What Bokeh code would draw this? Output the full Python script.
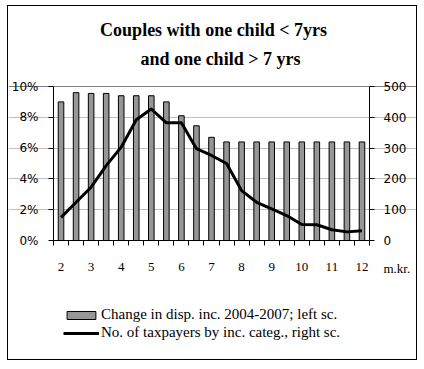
from bokeh.plotting import figure
from bokeh.models import (Range1d, LinearAxis, FixedTicker, NumeralTickFormatter,
                          Label, Legend, LegendItem, ColumnDataSource, Grid)
from bokeh.embed import file_html
from bokeh.resources import INLINE

# ---- data ----
categories = ["2", "2.5", "3", "3.5", "4", "4.5", "5", "5.5", "6", "6.5", "7",
              "7.5", "8", "8.5", "9", "9.5", "10", "10.5", "11", "11.5", "12"]
change_pct = [9.0, 9.6, 9.55, 9.55, 9.4, 9.4, 9.4, 9.0, 8.1, 7.45, 6.7,
              6.4, 6.4, 6.4, 6.4, 6.4, 6.4, 6.4, 6.4, 6.4, 6.4]
taxpayers = [75, 124, 173, 243, 303, 392, 427, 382, 382, 298, 276,
             250, 162, 124, 103, 81, 52, 51, 35, 28, 32]
tick_labels = ["2", "3", "4", "5", "6", "7", "8", "9", "10", "11", "12"]
left_ticks = [0, 0.02, 0.04, 0.06, 0.08, 0.10]
right_ticks = [0, 100, 200, 300, 400, 500]
left_max, right_max = 0.10, 500

# ---- layout (pixels) ----
W, H = 410, 355                 # canvas (inside the 1px border)
PL, PR, PT, PB = 45, 49, 80, 121  # plot area offsets inside the canvas
n = len(categories)
ppx = (W - PL - PR) / n          # px per category
ppy = (H - PT - PB) / left_max   # px per unit (left)
ppr = (H - PT - PB) / right_max  # px per unit (right)

x_range = Range1d(-0.5 - PL / ppx, n - 0.5 + PR / ppx)
y_range = Range1d(-PB / ppy, left_max + PT / ppy)

def xs(px):  # canvas px -> x data
    return -0.5 - PL / ppx + px / ppx

def ys(py):  # canvas px (from top) -> left y data
    return left_max + PT / ppy - py / ppy

idx = list(range(n))
src = ColumnDataSource(dict(x=idx, cat=categories,
                            bar=[v / 100 for v in change_pct], tax=taxpayers))

p = figure(width=W, height=H, x_range=x_range, y_range=y_range,
           output_backend="svg", toolbar_location=None, title=None,
           min_border_left=0, min_border_right=0, min_border_top=0, min_border_bottom=0)
p.extra_y_ranges = {"right": Range1d(-PB / ppr, right_max + PT / ppr)}
p.styles = {"border": "1px solid black", "margin-left": "7px", "margin-top": "5px"}
p.outline_line_color = None
p.background_fill_color = "white"
p.border_fill_color = "white"

# grid
p.xgrid.visible = False
p.ygrid.ticker = FixedTicker(ticks=left_ticks[1:-1])
p.ygrid.grid_line_color = "#c0c0c0"
p.ygrid.bounds = (-0.5, n - 0.5)
p.add_layout(Grid(dimension=1, ticker=FixedTicker(ticks=[left_max]),
                  grid_line_color="#808080", bounds=(-0.5, n - 0.5)))

tick_font = "DejaVu Sans"

# left axis
ya = p.yaxis[0]
ya.fixed_location = -0.5
ya.bounds = (0, left_max)
ya.ticker = FixedTicker(ticks=left_ticks)
ya.formatter = NumeralTickFormatter(format="0%")
ya.axis_line_color = "black"
ya.major_tick_line_color = "black"
ya.major_tick_out = 5
ya.major_tick_in = 0
ya.minor_tick_line_color = None
ya.major_label_standoff = 10
ya.major_label_text_font = tick_font
ya.major_label_text_font_size = "12px"
ya.major_label_text_color = "black"

# right axis
ra = LinearAxis(y_range_name="right", ticker=FixedTicker(ticks=right_ticks),
                fixed_location=n - 0.5, bounds=(0, right_max))
ra.axis_line_color = "black"
ra.major_tick_line_color = "black"
ra.major_tick_out = 5
ra.major_tick_in = 0
ra.minor_tick_line_color = None
ra.major_label_standoff = 9
ra.major_label_text_font = tick_font
ra.major_label_text_font_size = "12px"
ra.major_label_text_color = "black"
p.add_layout(ra, "right")

# bottom axis
xa = p.xaxis[0]
xa.fixed_location = 0
xa.bounds = (-0.5, n - 0.5)
major = [i for i in idx if i % 2 == 0]
xa.ticker = FixedTicker(ticks=major, minor_ticks=[i - 0.5 for i in range(n + 1)])
xa.major_label_overrides = {i: lab for i, lab in zip(major, tick_labels)}
xa.axis_line_color = "black"
xa.major_tick_out = 0
xa.major_tick_in = 0
xa.minor_tick_out = 5
xa.minor_tick_in = 0
xa.minor_tick_line_color = "black"
xa.major_label_standoff = 17
xa.major_label_text_font = "Liberation Serif"
xa.major_label_text_font_size = "13px"
xa.major_label_text_color = "black"

bars = p.vbar(x="x", top="bar", width=0.37, source=src, fill_color="#969696",
              line_color="black", line_width=1)
line = p.line(x="x", y="tax", source=src, y_range_name="right", line_color="black",
              line_width=3, line_join="round")

# titles and unit label (canvas pixel positions converted to data)
title_style = dict(text_align="center", text_baseline="middle",
                   text_font="Liberation Serif", text_font_style="bold",
                   text_font_size="18px", text_color="black")
p.add_layout(Label(x=xs(205), y=ys(23.5), text="Couples with one child < 7yrs", **title_style))
p.add_layout(Label(x=xs(212), y=ys(52), text="and one child > 7 yrs", **title_style))
p.add_layout(Label(x=xs(375), y=ys(262), text="m.kr.", text_align="left",
                   text_baseline="middle", text_font="Liberation Serif",
                   text_font_size="13px", text_color="black"))

legend = Legend(items=[
    LegendItem(label="Change in disp. inc. 2004-2007; left sc.", renderers=[bars]),
    LegendItem(label="No. of taxpayers by inc. categ., right sc.", renderers=[line]),
], location=(55, 20))
legend.border_line_color = None
legend.background_fill_alpha = 0
legend.padding = 0
legend.margin = 0
legend.spacing = 1
legend.glyph_width = 36
legend.glyph_height = 10
legend.label_height = 10
legend.label_standoff = 2
legend.label_text_font = "Liberation Serif"
legend.label_text_font_size = "15px"
legend.label_text_color = "black"
p.add_layout(legend)

open("out.html", "w").write(file_html(p, INLINE))
